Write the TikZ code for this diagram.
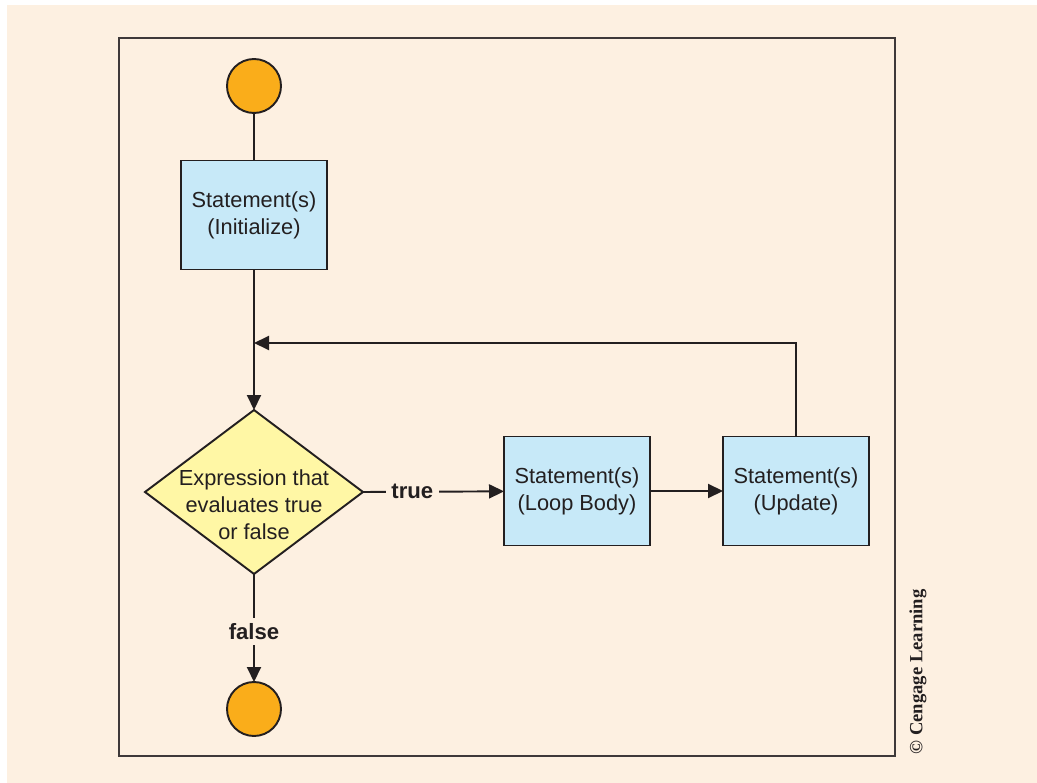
\documentclass[tikz,border=0pt]{standalone}
\usepackage{fontspec}
\setmainfont{Liberation Sans}
\newfontfamily\creditfont{Liberation Serif}
\usetikzlibrary{shapes.geometric,arrows.meta}

\definecolor{lpback}{RGB}{253,240,225}
\definecolor{lpline}{RGB}{35,31,32}
\definecolor{lpframe}{RGB}{62,57,57}
\definecolor{lpterm}{RGB}{250,173,26}
\definecolor{lpboxfill}{RGB}{199,233,248}
\definecolor{lptestfill}{RGB}{255,247,165}

\begin{document}
\begin{tikzpicture}[
  x=0.02cm,
  y=-0.02cm,
  every node/.style={inner sep=0pt, outer sep=0pt},
  boxtext/.style={font=\fontsize{12.4}{15.4}\selectfont, text=lpline, align=center},
  flagtext/.style={font=\bfseries\fontsize{12.6}{15.4}\selectfont, text=lpline, fill=lpback, inner sep=3pt},
  credit/.style={font=\creditfont\bfseries\fontsize{10.6}{12}\selectfont, text=lpline},
  terminal/.style={circle, draw=lpline, fill=lpterm, line width=1.1pt, minimum size=1.08cm},
  stmt/.style={draw=lpline, fill=lpboxfill, line width=1.1pt, minimum width=2.92cm, minimum height=2.18cm, boxtext},
  decision/.style={diamond, draw=lpline, fill=lptestfill, line width=1.1pt, minimum width=4.36cm, minimum height=3.28cm},
  frame/.style={draw=lpframe, line width=0.8pt},
  wire/.style={draw=lpline, line width=1.1pt},
  flow/.style={draw=lpline, line width=1.1pt, -{Triangle[length=0.3cm, width=0.28cm]}}
]

  \path[use as bounding box] (0,0) rectangle (1037,783);
  \fill[lpback] (7,5) rectangle (1037,783);
  \draw[frame] (119,38) rectangle (895,756);

  % Start, initialisation and the loop test.
  \node[terminal] (start) at (254,86) {};
  \node[stmt] (init) at (254,215) {Statement(s)\\(Initialize)};
  \node[decision] (test) at (254,492) {};
  \node[boxtext] (testtext) at (254,505) {Expression that\\evaluates true\\or false};
  \coordinate (join) at (254,343);

  % Loop body and update.
  \node[stmt] (body) at (577,491) {Statement(s)\\(Loop Body)};
  \node[stmt] (update) at (796,491) {Statement(s)\\(Update)};

  % Exit.
  \node[terminal] (stop) at (254,709) {};

  \draw[wire] (start) -- (init);
  \draw[flow] (init) -- (test.north);
  \draw[flow] (test.east) -- node[flagtext, pos=0.35] (truetag) {true} (body);
  \draw[flow] (body) -- (update);
  \draw[flow] (update.north) |- (join);
  \draw[flow] (test.south) -- node[flagtext, pos=0.53] (falsetag) {false} (stop);

  \node[credit, rotate=90] (credittag) at (918,672) {\textcopyright{} Cengage Learning};

\end{tikzpicture}
\end{document}
